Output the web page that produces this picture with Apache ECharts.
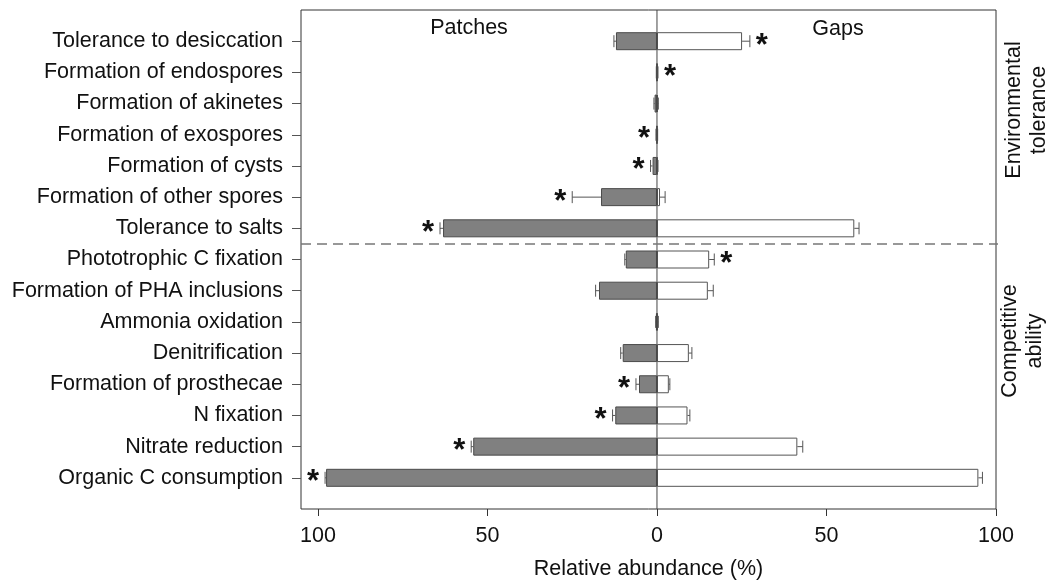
<!DOCTYPE html>
<html>
<head>
<meta charset="utf-8">
<script src="https://cdn.jsdelivr.net/npm/echarts@6/dist/echarts.min.js"></script>
<style>
  html, body { margin: 0; padding: 0; background: #fff; }
  #chart { width: 1050px; height: 581px; }
</style>
</head>
<body>
<div id="chart"></div>
<script>
// 类别与数据
var categories = ['Tolerance to desiccation', 'Formation of endospores', 'Formation of akinetes',
    'Formation of exospores', 'Formation of cysts', 'Formation of other spores', 'Tolerance to salts',
    'Phototrophic C fixation', 'Formation of PHA inclusions', 'Ammonia oxidation', 'Denitrification',
    'Formation of prosthecae', 'N fixation', 'Nitrate reduction', 'Organic C consumption'];
var patches    = [12.1, 0.1, 0.7, 0.1, 1.3, 16.5, 63.1, 9.2, 17.1, 0.3, 10.1, 5.3, 12.3, 54.2, 97.6];
var patchesErr = [12.7, 0.2, 0.9, 0.3, 1.9, 25.0, 64.0, 9.5, 18.1, 0.4, 10.7, 6.2, 13.1, 54.8, 97.9];
var gaps       = [25.1, 0.2, 0.3, 0.1, 0.2, 0.9, 58.2, 15.4, 15.0, 0.3, 9.4, 3.5, 9.0, 41.4, 94.8];
var gapsErr    = [27.4, 0.3, 0.4, 0.2, 0.3, 2.4, 59.6, 16.9, 16.6, 0.4, 10.3, 3.8, 9.7, 43.0, 96.0];
// 显著性星号: 1 = Gaps 一侧, -1 = Patches 一侧, 0 = 无
var signif     = [1, 1, 0, -1, -1, -1, -1, 1, 0, 0, 0, -1, -1, -1, -1];
var xTicks = [-100, -50, 0, 50, 100];
var lastEnvRow = 7; // 虚线画在该行与下一行之间

var FONT = 'Liberation Sans, Arial, sans-serif';
var FS = 21.5;
var yCats = [''].concat(categories, ['']);

var patchData = ['-'], gapData = ['-'], patchErrData = [], gapErrData = [], starData = [];
categories.forEach(function (c, i) {
    patchData.push(-patches[i]);
    gapData.push(gaps[i]);
    patchErrData.push([-patches[i], -patchesErr[i], i + 1]);
    gapErrData.push([gaps[i], gapsErr[i], i + 1]);
    if (signif[i] > 0) starData.push([gapsErr[i], i + 1, 1]);
    if (signif[i] < 0) starData.push([-patchesErr[i], i + 1, -1]);
});
patchData.push('-');
gapData.push('-');

function renderErr(params, api) {
    var y = api.value(2);
    var a = api.coord([api.value(0), y]);
    var b = api.coord([api.value(1), y]);
    var st = { stroke: '#555', lineWidth: 1 };
    return {
        type: 'group',
        children: [
            { type: 'line', shape: { x1: a[0], y1: a[1], x2: b[0], y2: b[1] }, style: st },
            { type: 'line', shape: { x1: b[0], y1: b[1] - 6, x2: b[0], y2: b[1] + 6 }, style: st }
        ]
    };
}

var myChart = echarts.init(document.getElementById('chart'));
var option = {
    animation: false,
    textStyle: { fontFamily: FONT },
    grid: {
        left: 301, right: 54, top: 10, bottom: 72,
        outerBoundsMode: 'none',
        show: true, borderColor: '#333', borderWidth: 1, backgroundColor: 'transparent'
    },
    xAxis: {
        type: 'value',
        min: -105,
        max: 100,
        axisLine: { show: false, onZero: false },
        splitLine: { show: false },
        axisTick: { show: true, length: 7, customValues: xTicks, lineStyle: { color: '#333' } },
        axisLabel: {
            customValues: xTicks,
            fontSize: FS, color: '#111', margin: 16,
            formatter: function (v) { return Math.abs(v); }
        },
        name: 'Relative abundance (%)',
        nameLocation: 'middle',
        nameGap: 49,
        nameTextStyle: { fontSize: FS, color: '#111' }
    },
    yAxis: {
        type: 'category',
        data: yCats,
        inverse: true,
        boundaryGap: false,
        axisLine: { show: false, onZero: false },
        axisTick: {
            show: true, length: 9, lineStyle: { color: '#555' },
            interval: function (idx, val) { return val !== ''; }
        },
        axisLabel: {
            fontSize: FS, color: '#111', margin: 18,
            interval: function (idx, val) { return val !== ''; }
        },
        splitLine: { show: false }
    },
    series: [
        {
            name: 'Patches',
            type: 'bar',
            data: patchData,
            barWidth: 18,
            barGap: '-100%',
            itemStyle: { color: '#808080', borderColor: '#4a4a4a', borderWidth: 1 }
        },
        {
            name: 'Gaps',
            type: 'bar',
            data: gapData,
            barWidth: 18,
            barGap: '-100%',
            itemStyle: { color: '#ffffff', borderColor: '#555', borderWidth: 1 }
        },
        {
            type: 'custom',
            renderItem: renderErr,
            encode: { x: [0, 1], y: 2 },
            data: patchErrData,
            z: 3
        },
        {
            type: 'custom',
            renderItem: renderErr,
            encode: { x: [0, 1], y: 2 },
            data: gapErrData,
            z: 3
        },
        {
            // 星号
            type: 'custom',
            encode: { x: 0, y: 1 },
            data: starData,
            z: 5,
            renderItem: function (params, api) {
                var p = api.coord([api.value(0), api.value(1)]);
                var side = api.value(2);
                return {
                    type: 'text',
                    x: p[0] + side * 12,
                    y: p[1] + 5,
                    style: {
                        text: '*', fontSize: 31, fontWeight: 'bold', fontFamily: FONT,
                        fill: '#111', align: 'center', verticalAlign: 'middle'
                    }
                };
            }
        },
        {
            // 零线与分组虚线
            type: 'custom',
            encode: { x: 0, y: 1 },
            data: [[0, lastEnvRow]],
            z: 4,
            renderItem: function (params, api) {
                var top = api.coord([0, 0]);
                var bot = api.coord([0, yCats.length - 1]);
                var r1 = api.coord([0, api.value(1)]);
                var r2 = api.coord([0, api.value(1) + 1]);
                var yMid = (r1[1] + r2[1]) / 2;
                var l = api.coord([-105, 0]);
                var r = api.coord([100, 0]);
                return {
                    type: 'group',
                    children: [
                        { type: 'line', shape: { x1: top[0], y1: top[1], x2: bot[0], y2: bot[1] },
                          style: { stroke: '#444', lineWidth: 1 } },
                        { type: 'line', shape: { x1: l[0], y1: yMid, x2: r[0] + 2, y2: yMid },
                          style: { stroke: '#777', lineWidth: 1.5, lineDash: [10, 6] } }
                    ]
                };
            }
        }
    ],
    graphic: [
        { type: 'text', x: 469, y: 28, style: { text: 'Patches', fontSize: FS, fontFamily: FONT, fill: '#111', align: 'center', verticalAlign: 'middle' } },
        { type: 'text', x: 838, y: 29, style: { text: 'Gaps', fontSize: FS, fontFamily: FONT, fill: '#111', align: 'center', verticalAlign: 'middle' } },
        { type: 'text', x: 1027, y: 110, rotation: Math.PI / 2,
          style: { text: 'Environmental\ntolerance', fontSize: FS, lineHeight: 25, fontFamily: FONT, fill: '#111', align: 'center', verticalAlign: 'middle' } },
        { type: 'text', x: 1023, y: 341, rotation: Math.PI / 2,
          style: { text: 'Competitive\nability', fontSize: FS, lineHeight: 25, fontFamily: FONT, fill: '#111', align: 'center', verticalAlign: 'middle' } }
    ]
};
myChart.setOption(option);
</script>
</body>
</html>
